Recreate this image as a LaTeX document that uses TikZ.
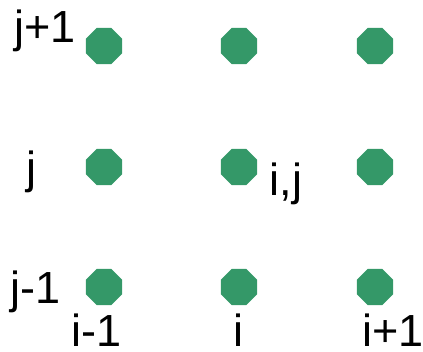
\documentclass[tikz,border=0pt]{standalone}
\usepackage{fontspec}
\setmainfont{Liberation Sans}
\usetikzlibrary{shapes.geometric}
\definecolor{dotgreen}{RGB}{52,152,104}
\begin{document}
\begin{tikzpicture}[x=1pt,y=-1pt,
  gdot/.style={regular polygon,regular polygon sides=8,fill=dotgreen,draw=none,minimum size=39pt,inner sep=0pt},
  lbl/.style={inner sep=0pt,anchor=base,font=\fontsize{45}{54}\selectfont}]
\useasboundingbox (0,0) rectangle (423,351);
\node[gdot] (a11) at (104,46) {};
\node[gdot] (a21) at (239,46) {};
\node[gdot] (a31) at (375,46) {};
\node[gdot] (a12) at (104,167) {};
\node[gdot] (a22) at (239,167) {};
\node[gdot] (a32) at (375,167) {};
\node[gdot] (a13) at (104,287) {};
\node[gdot] (a23) at (239,287) {};
\node[gdot] (a33) at (375,287) {};
\node[lbl] (tj1) at (45,42) {j+1};
\node[lbl] (tj) at (31,183) {j};
\node[lbl] (tjm) at (36,303) {j-1};
\node[lbl] (tij) at (286,195) {i,j};
\node[lbl] (tim) at (97,346) {i-1};
\node[lbl] (ti) at (238.5,346) {i};
\node[lbl] (tip) at (393,346) {i+1};
\end{tikzpicture}
\end{document}
